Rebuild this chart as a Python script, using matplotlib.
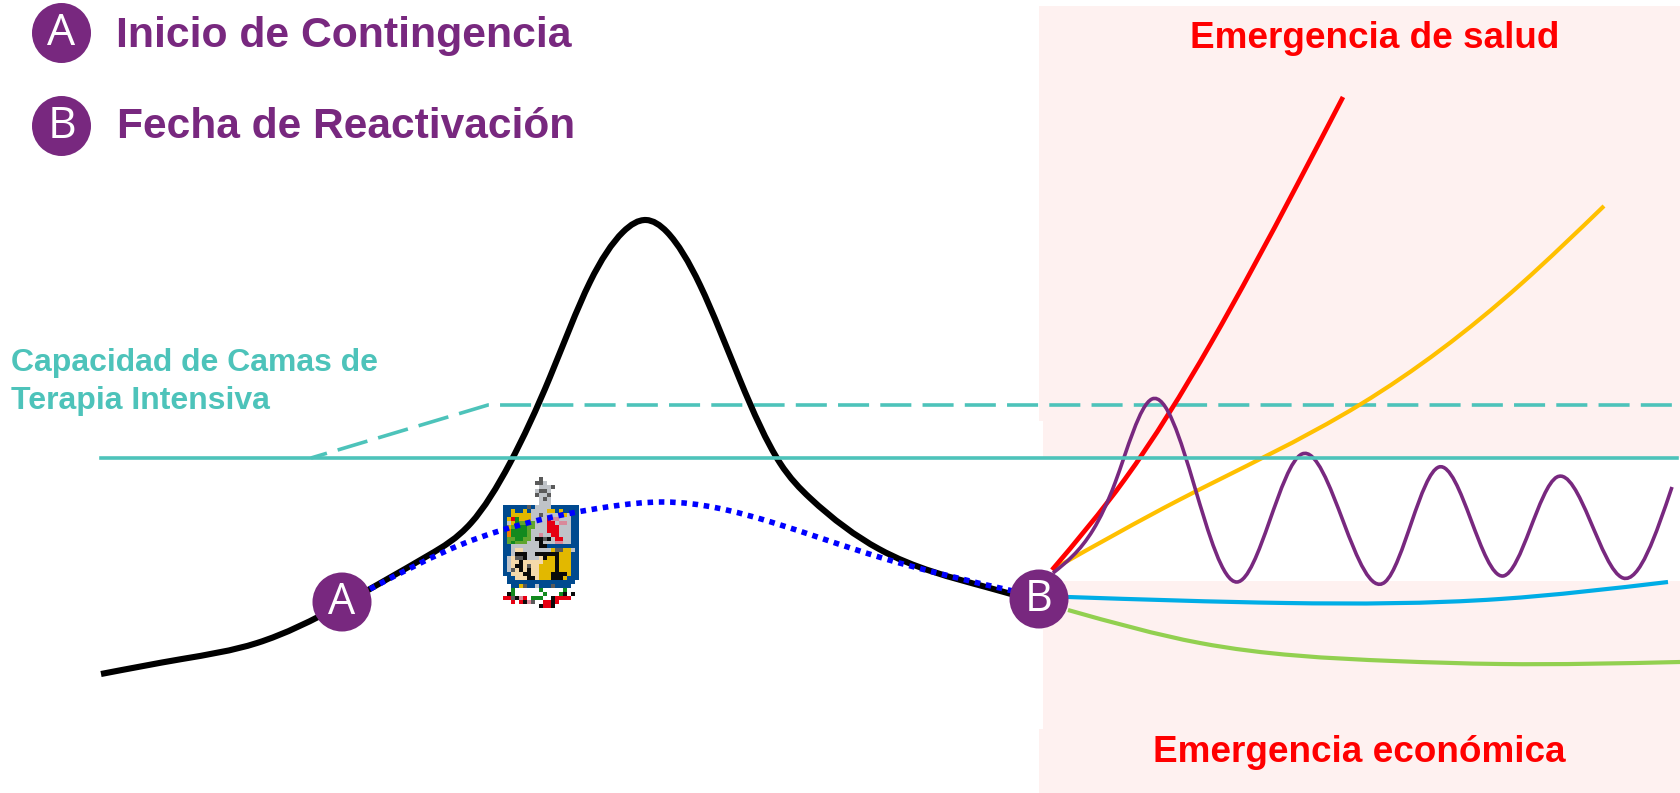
import matplotlib
matplotlib.use("Agg")
import numpy as np
import matplotlib.pyplot as plt
from matplotlib.colors import to_rgb
from matplotlib.patches import Ellipse, PathPatch, Rectangle
from matplotlib.path import Path

# curvas (x, y en pixeles de la imagen completa)
curva_x = [101, 182, 257, 341, 429, 471, 510, 550, 590, 623, 646, 667, 700, 740, 780, 810, 879, 986, 1039]
curva_y = [674, 659, 643, 605, 555, 523, 463, 377, 282, 232, 220, 232, 285, 380, 463, 498, 549, 587, 602]
plana_x = [370, 465, 531, 607, 664, 771, 879, 1013]
plana_y = [589, 543, 522, 507, 502, 522, 557, 591]
rojo_x = [1052, 1125, 1211, 1296, 1343]
rojo_y = [570, 479, 343, 187, 97]
oro_x = [1055, 1179, 1361, 1521, 1604]
oro_y = [568, 500, 404, 284, 206]
morado_x = [1053, 1093, 1115, 1152, 1237, 1302, 1385, 1439, 1503, 1557, 1623, 1672]
morado_y = [573, 530, 483, 399, 582, 454, 582, 467, 576, 477, 578, 487]
azul_x = [1068, 1286, 1500, 1668]
azul_y = [597, 603, 599, 582]
verde_x = [1068, 1200, 1393, 1500, 1680]
verde_y = [610, 643, 661, 664, 662]
camas_x = [101, 1677]
camas_y = [458, 458]
camas_ext_x = [311, 488, 1680]
camas_ext_y = [458, 405, 405]

# escudo en pixeles
escudo = [
    "..........D...........",
    ".........DDG..........",
    "..........GGGD........",
    ".........GDDG.........",
    ".........DGGD.........",
    "..........GDG.........",
    "..........GGG.........",
    ".BBBBBBDBGGGGBBBBBBB..",
    ".BBYBBYBGGGGYYBYBBBB..",
    ".BBYYYYYGGDGGGGGYGBB..",
    ".BYRgYYYGGGGRPPGGGBB..",
    ".BGYgLLLLGGGRRGPPGBB..",
    ".BYLgggLLGGGRRRGGGBB..",
    ".BOggggLGGGGRRRGGGBB..",
    ".BOggggLGGPGGRRGGGBB..",
    ".BLLggLLGKKDKGRRGGBB..",
    ".BLgLLLGGGKGGGPPGGBB..",
    ".BBGGGGGGGKKBBBBBBBB..",
    ".BBGSSGGGGGGGYDDYYGB..",
    ".BBGKKKGGKKKKKKYYYBB..",
    ".BGSDDKGGGSKYYKYYYBB..",
    ".BGSSKSSSSSYYYKYYYBB..",
    ".BGSKKSDSSYYYYKYYYBB..",
    ".BGDSKSKSSYYYYKYYYBB..",
    ".BBSSSKKSSYYYKKKKYBB..",
    "..BBSSSKKSYYYKKKYBBB..",
    "..BBBBBBBBBBBBBBBBB...",
    "...BBYDBBGBBBDBBBB....",
    "...g......g.....g.....",
    "..Kg.......g...gK.K...",
    ".RRDKPR.ggg..KRRRR....",
    "...R.RKPD..RRKR.......",
    "..........KRRK........",
]
colores_escudo = {".": "#FFFFFF", "B": "#004A8F", "G": "#BFC3C8", "D": "#5A5A5A", "K": "#0A0A0A",
                  "Y": "#E2B800", "g": "#128A1E", "L": "#5FA52E", "R": "#E60012", "O": "#F07D00",
                  "S": "#F5D9AA", "P": "#D9899A", "M": "#7C9BBB", "W": "#E3E8F0"}

morado = "#78287F"
turquesa = "#4DC3BA"


def suave(xs, ys):
    # spline cubica por los puntos, dibujada como Bezier
    x = np.array(xs, dtype=float)
    y = np.array(ys, dtype=float)
    n = len(x)
    h = np.diff(x)
    d = np.diff(y) / h
    A = np.zeros((n, n))
    b = np.zeros(n)
    A[0, 0], A[0, 1], b[0] = 2, 1, 3 * d[0]
    A[-1, -2], A[-1, -1], b[-1] = 1, 2, 3 * d[-1]
    for k in range(1, n - 1):
        A[k, k - 1] = h[k]
        A[k, k] = 2 * (h[k - 1] + h[k])
        A[k, k + 1] = h[k - 1]
        b[k] = 3 * (h[k] * d[k - 1] + h[k - 1] * d[k])
    m = np.linalg.solve(A, b)
    verts = [(x[0], y[0])]
    codes = [Path.MOVETO]
    for k in range(n - 1):
        verts += [(x[k] + h[k] / 3, y[k] + m[k] * h[k] / 3),
                  (x[k + 1] - h[k] / 3, y[k + 1] - m[k + 1] * h[k] / 3),
                  (x[k + 1], y[k + 1])]
        codes += [Path.CURVE4] * 3
    return Path(verts, codes)


def linea(ax, xs, ys, color, lw, z, **kw):
    ax.add_patch(PathPatch(suave(xs, ys), fill=False, edgecolor=color, lw=lw, zorder=z, **kw))


fig = plt.figure(figsize=(16.8, 7.93), dpi=100)
ax = fig.add_axes([0, 0, 1, 1])
ax.axis("off")

# fondo rosa
for x0, y0, y1 in [(1039, 6, 421), (1043, 421, 458), (1043, 581, 729), (1039, 729, 793)]:
    ax.add_patch(Rectangle((x0, y0), 1680 - x0, y1 - y0, color="#FEF1F0", lw=0, zorder=0))

img = np.array([[to_rgb(colores_escudo[c]) for c in fila.ljust(22, ".")[:22]] for fila in escudo])
ax.imshow(img, extent=(499, 587, 608, 477), interpolation="nearest", zorder=1, aspect="auto")
ax.set_xlim(0, 1680)
ax.set_ylim(793, 0)

ax.plot(camas_ext_x, camas_ext_y, color=turquesa, lw=2.6, ls=(4, (8.6, 3.1)), zorder=2)
linea(ax, curva_x, curva_y, "black", 4.4, 3, capstyle="butt")
linea(ax, plana_x, plana_y, "#0000FF", 4.0, 4, linestyle=(0, (1, 1.03)), capstyle="butt")
linea(ax, oro_x, oro_y, "#FFC000", 3.0, 3)
linea(ax, rojo_x, rojo_y, "#FF0000", 3.4, 3)
linea(ax, morado_x, morado_y, morado, 2.6, 4)
linea(ax, azul_x, azul_y, "#00ADE6", 3.0, 3)
linea(ax, verde_x, verde_y, "#92D050", 3.0, 3)
ax.plot(camas_x, camas_y, color=turquesa, lw=2.6, zorder=5)

# circulos
for cx, cy, ancho, alto, letra, fs in [(61.5, 33, 59, 60, "A", 32), (61.5, 126, 59, 60, "B", 32),
                                       (342, 602, 59, 59, "A", 31), (1039, 599, 59, 59, "B", 31)]:
    ax.add_patch(Ellipse((cx, cy), ancho, alto, color=morado, lw=0, zorder=6))
    ax.text(cx, cy + 1, letra, color="white", fontsize=fs, family="Open Sans", fontweight="normal",
            ha="center", va="center", zorder=7)

negrita = dict(family="Liberation Sans", fontweight="bold")
ax.text(116, 36, "Inicio de Contingencia", color=morado, fontsize=30.8, ha="left", va="center", **negrita)
ax.text(117, 126.5, "Fecha de Reactivación", color=morado, fontsize=30.6, ha="left", va="center", **negrita)
ax.text(1375, 38, "Emergencia de salud", color="#FF0000", fontsize=26.6, ha="center", va="center", **negrita)
ax.text(1359, 753, "Emergencia económica", color="#FF0000", fontsize=26.6, ha="center", va="center", **negrita)
ax.text(11, 363, "Capacidad de Camas de", color=turquesa, fontsize=23, ha="left", va="center", **negrita)
ax.text(11, 401, "Terapia Intensiva", color=turquesa, fontsize=23, ha="left", va="center", **negrita)

fig.savefig("out.png", dpi=100)
